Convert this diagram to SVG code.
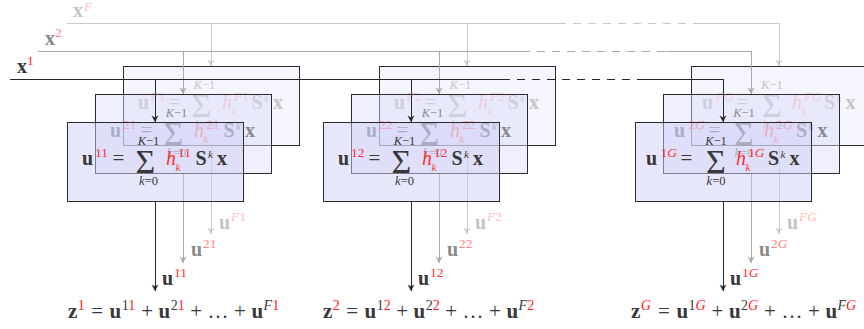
<svg xmlns="http://www.w3.org/2000/svg" width="864" height="329" viewBox="0 0 864 329">
<defs>
<style>
text{font-family:"Liberation Serif","DejaVu Serif",serif}
.t{font-size:20px}
.e{font-size:21px}
.b{font-weight:bold}
.i{font-style:italic}
.s{font-size:13.5px}
.ss{font-size:11px}
.es{font-size:14px}
.eqs{font-size:21px}
.sig{font-size:34px;text-anchor:middle}
.lim{font-size:12.5px;text-anchor:middle}
.L1{fill:#383838}.R1{fill:#ff3030}
.L2{fill:#8a8a8a}.R2{fill:#ff8585}
.L3{fill:#c4c4c4}.R3{fill:#ffbcbc}
.box1{fill:#d0d0f8;fill-opacity:.5;stroke:#2b2b2b;stroke-width:1;shape-rendering:crispEdges}
.box2{fill:#dcdcfa;fill-opacity:.45;stroke:#2b2b2b;stroke-width:1;shape-rendering:crispEdges}
.box3{fill:#ebebfc;fill-opacity:.5;stroke:#2b2b2b;stroke-width:1;shape-rendering:crispEdges}
.w1{fill:none;stroke:#262626;stroke-width:1;shape-rendering:crispEdges}
.w2{fill:none;stroke:#a8a8a8;stroke-width:1;shape-rendering:crispEdges}
.w3{fill:none;stroke:#c8c8c8;stroke-width:1;shape-rendering:crispEdges}
.a1{marker-end:url(#m1)}.a2{marker-end:url(#m2)}.a3{marker-end:url(#m3)}
.d{stroke-dasharray:8 7}
.red{fill:#ff2020}
</style>
<marker id="m1" viewBox="-7 -4 8 8" markerWidth="8" markerHeight="8" refX="0" refY="0" orient="auto" markerUnits="userSpaceOnUse"><path d="M0,0 L-6.5,-3.5 L-4.5,0 L-6.5,3.5 Z" fill="#262626"/></marker>
<marker id="m2" viewBox="-7 -4 8 8" markerWidth="8" markerHeight="8" refX="0" refY="0" orient="auto" markerUnits="userSpaceOnUse"><path d="M0,0 L-6.5,-3.5 L-4.5,0 L-6.5,3.5 Z" fill="#a8a8a8"/></marker>
<marker id="m3" viewBox="-7 -4 8 8" markerWidth="8" markerHeight="8" refX="0" refY="0" orient="auto" markerUnits="userSpaceOnUse"><path d="M0,0 L-6.5,-3.5 L-4.5,0 L-6.5,3.5 Z" fill="#c8c8c8"/></marker>
</defs>

<g id="connectors-out">
<path class="w3 a3" d="M211,145 V234"/>
<path class="w2 a2" d="M183,173 V263"/>
<path class="w1 a1" d="M155,201 V291"/>
<path class="w3 a3" d="M467,145 V234"/>
<path class="w2 a2" d="M439,173 V263"/>
<path class="w1 a1" d="M411,201 V291"/>
<path class="w3 a3" d="M779,145 V234"/>
<path class="w2 a2" d="M751,173 V263"/>
<path class="w1 a1" d="M723,201 V291"/>
<text class="t b L3" x="219" y="229">u</text><text class="s R3" x="231" y="221"><tspan class="i">F</tspan>1</text>
<text class="t b L2" x="191" y="256">u</text><text class="s R2" x="203" y="248">21</text>
<text class="t b L1" x="162" y="285">u</text><text class="s R1" x="174" y="277">11</text>
<text class="t b L3" x="475" y="229">u</text><text class="s R3" x="487" y="221"><tspan class="i">F</tspan>2</text>
<text class="t b L2" x="447" y="256">u</text><text class="s R2" x="459" y="248">22</text>
<text class="t b L1" x="418" y="285">u</text><text class="s R1" x="430" y="277">12</text>
<text class="t b L3" x="787" y="229">u</text><text class="s R3" x="799" y="221"><tspan class="i">FG</tspan></text>
<text class="t b L2" x="759" y="256">u</text><text class="s R2" x="771" y="248">2<tspan class="i">G</tspan></text>
<text class="t b L1" x="730" y="285">u</text><text class="s R1" x="742" y="277">1<tspan class="i">G</tspan></text>
</g>

<!-- column 1 -->
<g id="node-F1" transform="translate(123,66)">
<rect class="box3" width="176" height="79"/>
<text class="t b L3" x="15" y="43">u</text><text class="s R3" x="27.5" y="35"><tspan class="i">F</tspan>1</text>
<text class="eqs L3" x="45.5" y="43">=</text>
<text class="sig L3" x="78.5" y="51">Σ</text>
<text class="lim L3" x="81.5" y="23"><tspan class="i">K</tspan>−1</text>
<text class="lim L3" x="81.5" y="63"><tspan class="i">k</tspan>=0</text>
<text class="t i R3" x="99" y="43">h</text><text class="ss i R3" x="108.5" y="49">k</text><text class="s R3" x="111" y="35"><tspan class="i">F</tspan>1</text>
<text class="t b L3" x="128.5" y="43">S</text><text class="ss i L3" x="141" y="36">k</text>
<text class="t b L3" x="150" y="43">x</text>
</g>
<g id="node-21" transform="translate(95,94)">
<rect class="box2" width="176" height="79"/>
<text class="t b L2" x="15" y="43">u</text><text class="s R2" x="28" y="35">21</text>
<text class="eqs L2" x="45.5" y="43">=</text>
<text class="sig L2" x="78.5" y="51">Σ</text>
<text class="lim L2" x="81.5" y="23"><tspan class="i">K</tspan>−1</text>
<text class="lim L2" x="81.5" y="63"><tspan class="i">k</tspan>=0</text>
<text class="t i R2" x="99" y="43">h</text><text class="ss i R2" x="108.5" y="49">k</text><text class="s R2" x="111" y="35">21</text>
<text class="t b L2" x="128.5" y="43">S</text><text class="ss i L2" x="141" y="36">k</text>
<text class="t b L2" x="150" y="43">x</text>
</g>
<g id="node-11" transform="translate(67,122)">
<rect class="box1" width="176" height="79"/>
<text class="t b L1" x="15" y="43">u</text><text class="s R1" x="28" y="35">11</text>
<text class="eqs L1" x="45.5" y="43">=</text>
<text class="sig L1" x="78.5" y="51">Σ</text>
<text class="lim L1" x="81.5" y="23"><tspan class="i">K</tspan>−1</text>
<text class="lim L1" x="81.5" y="63"><tspan class="i">k</tspan>=0</text>
<text class="t i R1" x="99" y="43">h</text><text class="ss i R1" x="108.5" y="49">k</text><text class="s R1" x="111" y="35">11</text>
<text class="t b L1" x="128.5" y="43">S</text><text class="ss i L1" x="141" y="36">k</text>
<text class="t b L1" x="150" y="43">x</text>
</g>

<!-- column 2 -->
<g id="node-F2" transform="translate(379,66)">
<rect class="box3" width="176" height="79"/>
<text class="t b L3" x="15" y="43">u</text><text class="s R3" x="27.5" y="35"><tspan class="i">F</tspan>2</text>
<text class="eqs L3" x="45.5" y="43">=</text>
<text class="sig L3" x="78.5" y="51">Σ</text>
<text class="lim L3" x="81.5" y="23"><tspan class="i">K</tspan>−1</text>
<text class="lim L3" x="81.5" y="63"><tspan class="i">k</tspan>=0</text>
<text class="t i R3" x="99" y="43">h</text><text class="ss i R3" x="108.5" y="49">k</text><text class="s R3" x="111" y="35"><tspan class="i">F</tspan>2</text>
<text class="t b L3" x="128.5" y="43">S</text><text class="ss i L3" x="141" y="36">k</text>
<text class="t b L3" x="150" y="43">x</text>
</g>
<g id="node-22" transform="translate(351,94)">
<rect class="box2" width="176" height="79"/>
<text class="t b L2" x="15" y="43">u</text><text class="s R2" x="28" y="35">22</text>
<text class="eqs L2" x="45.5" y="43">=</text>
<text class="sig L2" x="78.5" y="51">Σ</text>
<text class="lim L2" x="81.5" y="23"><tspan class="i">K</tspan>−1</text>
<text class="lim L2" x="81.5" y="63"><tspan class="i">k</tspan>=0</text>
<text class="t i R2" x="99" y="43">h</text><text class="ss i R2" x="108.5" y="49">k</text><text class="s R2" x="111" y="35">22</text>
<text class="t b L2" x="128.5" y="43">S</text><text class="ss i L2" x="141" y="36">k</text>
<text class="t b L2" x="150" y="43">x</text>
</g>
<g id="node-12" transform="translate(323,122)">
<rect class="box1" width="176" height="79"/>
<text class="t b L1" x="15" y="43">u</text><text class="s R1" x="28" y="35">12</text>
<text class="eqs L1" x="45.5" y="43">=</text>
<text class="sig L1" x="78.5" y="51">Σ</text>
<text class="lim L1" x="81.5" y="23"><tspan class="i">K</tspan>−1</text>
<text class="lim L1" x="81.5" y="63"><tspan class="i">k</tspan>=0</text>
<text class="t i R1" x="99" y="43">h</text><text class="ss i R1" x="108.5" y="49">k</text><text class="s R1" x="111" y="35">12</text>
<text class="t b L1" x="128.5" y="43">S</text><text class="ss i L1" x="141" y="36">k</text>
<text class="t b L1" x="150" y="43">x</text>
</g>

<!-- column G -->
<g id="node-FG" transform="translate(691,66)">
<rect class="box3" width="176" height="79"/>
<text class="t b L3" x="11" y="43">u</text><text class="s R3" x="25" y="35"><tspan class="i">FG</tspan></text>
<text class="eqs L3" x="45.5" y="43">=</text>
<text class="sig L3" x="81" y="51">Σ</text>
<text class="lim L3" x="81" y="23"><tspan class="i">K</tspan>−1</text>
<text class="lim L3" x="81" y="63"><tspan class="i">k</tspan>=0</text>
<text class="t i R3" x="101" y="43">h</text><text class="ss i R3" x="110.5" y="49">k</text><text class="s R3" x="113" y="35"><tspan class="i">FG</tspan></text>
<text class="t b L3" x="133" y="43">S</text><text class="ss i L3" x="145.5" y="36">k</text>
<text class="t b L3" x="154.5" y="43">x</text>
</g>
<g id="node-2G" transform="translate(663,94)">
<rect class="box2" width="176" height="79"/>
<text class="t b L2" x="11" y="43">u</text><text class="s R2" x="25.5" y="35">2<tspan class="i">G</tspan></text>
<text class="eqs L2" x="45.5" y="43">=</text>
<text class="sig L2" x="81" y="51">Σ</text>
<text class="lim L2" x="81" y="23"><tspan class="i">K</tspan>−1</text>
<text class="lim L2" x="81" y="63"><tspan class="i">k</tspan>=0</text>
<text class="t i R2" x="101" y="43">h</text><text class="ss i R2" x="110.5" y="49">k</text><text class="s R2" x="113" y="35">2<tspan class="i">G</tspan></text>
<text class="t b L2" x="133" y="43">S</text><text class="ss i L2" x="145.5" y="36">k</text>
<text class="t b L2" x="154.5" y="43">x</text>
</g>
<g id="node-1G" transform="translate(635,122)">
<rect class="box1" width="176" height="79"/>
<text class="t b L1" x="11" y="43">u</text><text class="s R1" x="25.5" y="35">1<tspan class="i">G</tspan></text>
<text class="eqs L1" x="45.5" y="43">=</text>
<text class="sig L1" x="81" y="51">Σ</text>
<text class="lim L1" x="81" y="23"><tspan class="i">K</tspan>−1</text>
<text class="lim L1" x="81" y="63"><tspan class="i">k</tspan>=0</text>
<text class="t i R1" x="101" y="43">h</text><text class="ss i R1" x="110.5" y="49">k</text><text class="s R1" x="113" y="35">1<tspan class="i">G</tspan></text>
<text class="t b L1" x="133" y="43">S</text><text class="ss i L1" x="145.5" y="36">k</text>
<text class="t b L1" x="154.5" y="43">x</text>
</g>

<g id="connectors-in">
<path class="w3" d="M67,23 H558"/>
<path class="w3 d" d="M558,23 H695"/>
<path class="w3 a3" d="M695,23 H779 V66"/>
<path class="w3 a3" d="M211,23 V66"/>
<path class="w3 a3" d="M467,23 V66"/>
<path class="w2" d="M38,51 H522"/>
<path class="w2 d" d="M522,51 H666"/>
<path class="w2 a2" d="M666,51 H751 V94"/>
<path class="w2 a2" d="M183,51 V94"/>
<path class="w2 a2" d="M439,51 V94"/>
<path class="w1" d="M10,79 H502"/>
<path class="w1 d" d="M502,79 H638"/>
<path class="w1 a1" d="M638,79 H723 V122"/>
<path class="w1 a1" d="M155,79 V122"/>
<path class="w1 a1" d="M411,79 V122"/>
<text class="t b L3" x="73" y="17">x</text><text class="s R3 i" x="84" y="11">F</text>
<text class="t b L2" x="45" y="45">x</text><text class="s R2" x="55" y="37">2</text>
<text class="t b L1" x="17" y="73">x</text><text class="s R1" x="27" y="65">1</text>
</g>

<g id="sums" class="L1">
<text class="e"><tspan class="b" x="68" y="318">z</tspan><tspan class="es red" x="77.8" y="310">1</tspan><tspan x="91.3" y="318">=</tspan><tspan class="b" x="109.6" y="318">u</tspan><tspan class="es" x="121.8" y="310">1</tspan><tspan class="es red">1</tspan><tspan x="141.3" y="318">+</tspan><tspan class="b" x="158.6" y="318">u</tspan><tspan class="es" x="170.8" y="310">2</tspan><tspan class="es red">1</tspan><tspan x="190.3" y="318">+</tspan><tspan x="207.6" y="318">…</tspan><tspan x="234.1" y="318">+</tspan><tspan class="b" x="251.4" y="318">u</tspan><tspan class="es i" x="263.6" y="310">F</tspan><tspan class="es red">1</tspan></text>
<text class="e"><tspan class="b" x="323" y="318">z</tspan><tspan class="es red" x="332.8" y="310">2</tspan><tspan x="346.3" y="318">=</tspan><tspan class="b" x="364.6" y="318">u</tspan><tspan class="es" x="376.8" y="310">1</tspan><tspan class="es red">2</tspan><tspan x="396.3" y="318">+</tspan><tspan class="b" x="413.6" y="318">u</tspan><tspan class="es" x="425.8" y="310">2</tspan><tspan class="es red">2</tspan><tspan x="445.3" y="318">+</tspan><tspan x="462.6" y="318">…</tspan><tspan x="489.1" y="318">+</tspan><tspan class="b" x="506.4" y="318">u</tspan><tspan class="es i" x="518.6" y="310">F</tspan><tspan class="es red">2</tspan></text>
<text class="e"><tspan class="b" x="631" y="318">z</tspan><tspan class="es red i" x="640.8" y="310">G</tspan><tspan x="658" y="318">=</tspan><tspan class="b" x="676.5" y="318">u</tspan><tspan class="es" x="688.5" y="310">1</tspan><tspan class="es red i">G</tspan><tspan x="711.5" y="318">+</tspan><tspan class="b" x="729" y="318">u</tspan><tspan class="es" x="741" y="310">2</tspan><tspan class="es red i">G</tspan><tspan x="764" y="318">+</tspan><tspan x="781.5" y="318">…</tspan><tspan x="808" y="318">+</tspan><tspan class="b" x="825.5" y="318">u</tspan><tspan class="es i" x="837.5" y="310">F</tspan><tspan class="es red i">G</tspan></text>
</g>
</svg>
